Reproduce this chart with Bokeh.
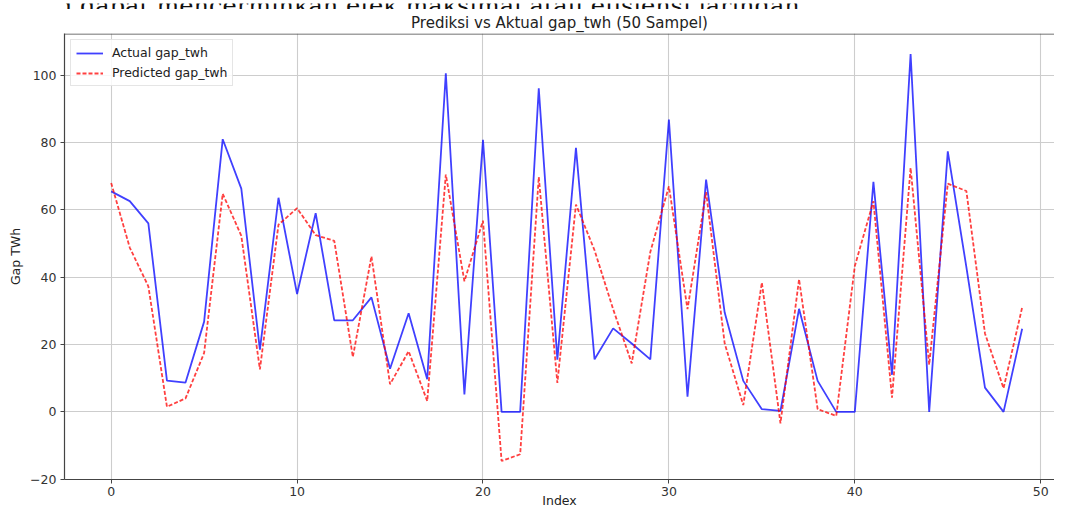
from bokeh.plotting import figure
from bokeh.layouts import column
from bokeh.models import (Legend, LegendItem, FixedTicker, Title, Span,
                          CustomJSTickFormatter, Range1d)
from bokeh.core.properties import value
from bokeh.embed import file_html
from bokeh.resources import INLINE

# ---- data ----
index = list(range(50))
actual = [65.5, 62.6, 56.0, 9.3, 8.7, 26.8, 81.0, 66.3, 18.5, 63.6,
          35.0, 59.0, 27.2, 27.2, 34.0, 12.8, 29.3, 9.7, 100.6, 5.2,
          80.8, 0.0, 0.0, 96.1, 15.5, 78.4, 15.6, 24.8, 20.3, 15.6,
          86.8, 4.5, 69.0, 29.5, 9.2, 0.8, 0.3, 30.6, 9.2, 0.0,
          0.0, 68.3, 11.0, 106.3, 0.0, 77.4, 43.0, 7.2, 0.0, 24.7]
predicted = [68.0, 48.8, 37.3, 1.5, 4.0, 17.5, 64.8, 52.3, 12.6, 55.6,
             60.5, 52.5, 50.8, 16.3, 46.2, 8.2, 18.0, 3.2, 70.5, 38.8,
             56.8, -14.6, -12.6, 69.8, 8.6, 61.6, 48.0, 30.5, 14.4, 47.5,
             67.0, 30.5, 65.3, 20.3, 2.0, 38.4, -3.4, 39.4, 0.8, -1.2,
             43.3, 62.6, 4.2, 72.5, 14.0, 67.8, 65.6, 23.3, 7.0, 31.0]

x_ticks = [0, 10, 20, 30, 40, 50]
y_ticks = [-20, 0, 20, 40, 60, 80, 100]

title_text = "Prediksi vs Aktual gap_twh (50 Sampel)"
x_label = "Index"
y_label = "Gap TWh"
series_names = ["Actual gap_twh", "Predicted gap_twh"]
doc_text = ["g dapat mencerminkan efek maksimal atau efisiensi jaringan."]

FONT = "DejaVu Sans"
W = 1054          # 1070 window - 2 x 8 px page margin
Y_LO, Y_HI = -20.1, 112.4

# ---- strip with the (cut-off) document line above the chart ----
top = figure(width=W, height=9, x_range=Range1d(0, W), y_range=Range1d(0, 9),
             output_backend="svg", toolbar_location=None,
             x_axis_type=None, y_axis_type=None, min_border=0)
top.outline_line_color = None
top.grid.visible = False
top.text(x=[-8], y=[7], text=doc_text, text_font=value("DejaVu Serif"),
         text_font_size="24px", text_color="#111111",
         text_align="left", text_baseline="alphabetic")

# ---- main chart ----
p = figure(width=W, height=501,
           x_range=Range1d(-2.51, 50.74), y_range=Range1d(Y_LO, Y_HI),
           output_backend="svg", toolbar_location=None,
           min_border_left=56, min_border_right=0,
           min_border_top=18, min_border_bottom=30)

p.background_fill_color = "white"
p.border_fill_color = "white"
p.outline_line_color = None
# top spine (the right spine lies outside the reference crop)
p.add_layout(Span(location=Y_HI - 0.15, dimension="width",
                  line_color="#444444", line_width=1.2))

p.title.text = title_text
p.title.align = "center"
p.title.offset = -4
p.title.text_font = FONT
p.title.text_font_size = "15px"
p.title.text_font_style = "normal"
p.title.text_color = "#222222"
p.title.text_line_height = 0.55
p.title.standoff = 4

r_act = p.line(index, actual, line_color="blue", line_alpha=0.75, line_width=1.8)
r_pred = p.line(index, predicted, line_color="red", line_alpha=0.75,
                line_width=1.8, line_dash="4 2")

for g in (p.xgrid, p.ygrid):
    g.grid_line_color = "#cdcdcd"
    g.grid_line_width = 1.1
p.xgrid.ticker = FixedTicker(ticks=x_ticks)
p.ygrid.ticker = FixedTicker(ticks=y_ticks)

fmt = CustomJSTickFormatter(code="return tick < 0 ? '\\u2212' + Math.abs(tick) : String(tick);")

for ax in (p.xaxis[0], p.yaxis[0]):
    ax.axis_line_color = "#444444"
    ax.axis_line_width = 1.2
    ax.major_tick_line_color = "#444444"
    ax.major_tick_out = 4
    ax.major_tick_in = 0
    ax.minor_tick_line_color = None
    ax.major_label_text_font = FONT
    ax.major_label_text_font_size = "12.5px"
    ax.major_label_text_color = "#333333"
    ax.axis_label_text_font = FONT
    ax.axis_label_text_font_size = "12.5px"
    ax.axis_label_text_font_style = "normal"
    ax.axis_label_text_color = "#222222"
    ax.formatter = fmt

p.xaxis[0].ticker = FixedTicker(ticks=x_ticks)
p.yaxis[0].ticker = FixedTicker(ticks=y_ticks)
p.yaxis[0].major_label_standoff = 4
p.xaxis[0].major_label_standoff = 3

# x axis title, pulled up towards the tick labels
p.xaxis[0].axis_label = x_label
p.xaxis[0].axis_label_standoff = -6

# y axis title as a compact side title
p.add_layout(Title(text=y_label, align="center", text_font=FONT,
                   text_font_size="12.5px", text_font_style="normal",
                   text_color="#222222", text_line_height=1.0, standoff=10),
             "left")

legend = Legend(items=[LegendItem(label=series_names[0], renderers=[r_act]),
                       LegendItem(label=series_names[1], renderers=[r_pred])],
                location="top_left")
legend.margin = 6
legend.padding = 5
legend.spacing = 5
legend.glyph_width = 27
legend.glyph_height = 14
legend.label_height = 14
legend.label_standoff = 9
legend.label_text_font = FONT
legend.label_text_font_size = "12.5px"
legend.label_text_color = "#222222"
legend.border_line_color = "#cccccc"
legend.border_line_width = 1
legend.background_fill_alpha = 0.85
p.add_layout(legend)

layout = column(top, p, spacing=0)

open("out.html", "w").write(file_html(layout, INLINE))
